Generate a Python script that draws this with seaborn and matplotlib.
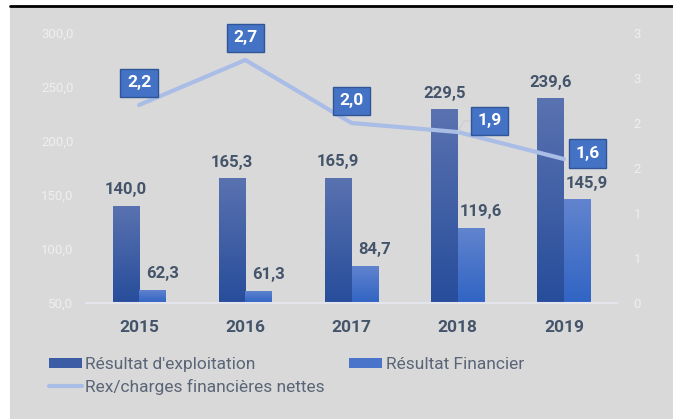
import numpy as np
import pandas as pd
import matplotlib
matplotlib.use("Agg")
import matplotlib.pyplot as plt
from matplotlib.patches import Rectangle, Patch
from matplotlib.lines import Line2D
from matplotlib.colors import LinearSegmentedColormap
import seaborn as sns

# data
years = ["2015", "2016", "2017", "2018", "2019"]
resultat_exploitation = [140.0, 165.3, 165.9, 229.5, 239.6]
resultat_financier = [62.3, 61.3, 84.7, 119.6, 145.9]
rex_charges = [2.2, 2.7, 2.0, 1.9, 1.6]
series_names = ["Résultat d'exploitation", "Résultat Financier", "Rex/charges financières nettes"]
left_ticks = [50, 100, 150, 200, 250, 300]
right_ticks = [0, 0.5, 1, 1.5, 2, 2.5, 3]
right_tick_labels = ["0", "1", "1", "2", "2", "3", "3"]

def fmt(v, nd=1):
    return f"{v:.{nd}f}".replace(".", ",")

sns.set_theme(style="white")
plt.rcParams["font.family"] = ["Roboto", "DejaVu Sans"]

BG = "#D9D9D9"
TXT = "#44546A"
dark_top, dark_bot = "#5A72B0", "#274D9B"
light_top, light_bot = "#6284CE", "#3064C4"

fig = plt.figure(figsize=(6.73, 4.19), dpi=100)
fig.patch.set_facecolor("white")
fig.add_artist(Rectangle((10 / 673, 0), 1, (419 - 7) / 419, transform=fig.transFigure,
                         facecolor=BG, edgecolor="none", zorder=0))
fig.add_artist(Line2D([10 / 673, 1], [1 - 6 / 419] * 2, transform=fig.transFigure,
                      color="black", lw=2, zorder=1))

ax = fig.add_axes([86 / 673, 116 / 419, 531 / 673, 270 / 419])
ax.set_facecolor("none")

df = pd.DataFrame({
    "year": years * 2,
    "value": resultat_exploitation + resultat_financier,
    "series": [series_names[0]] * 5 + [series_names[1]] * 5,
})
sns.barplot(data=df, x="year", y="value", hue="series", ax=ax, width=0.5,
            palette=[dark_bot, light_bot], legend=False, saturation=1, linewidth=0)
ax.set_ylim(50, 300)
ax.set_xlim(-0.5, 4.5)

# vertical gradient fill on each bar
grad = np.linspace(0, 1, 256).reshape(-1, 1)
for cont, (top, bot) in zip(ax.containers, [(dark_top, dark_bot), (light_top, light_bot)]):
    cmap = LinearSegmentedColormap.from_list("g", [bot, top])
    for p in cont.patches:
        p.set_edgecolor("none")
        x0, w, h = p.get_x(), p.get_width(), p.get_height()
        im = ax.imshow(grad, extent=[x0, x0 + w, 50, h], origin="lower", cmap=cmap,
                       aspect="auto", zorder=p.get_zorder() + 0.1)
        im.set_clip_path(p)
ax.set_xlim(-0.5, 4.5)
ax.set_ylim(50, 300)

# value labels
for i, cont in enumerate(ax.containers):
    vals = resultat_exploitation if i == 0 else resultat_financier
    texts = ax.bar_label(cont, labels=[fmt(v) for v in vals], padding=6,
                         fontsize=12, fontweight="bold", color=TXT)
    if i == 1:
        for t in texts:
            t.xyann = (7, 6)

for s in ["top", "left", "right"]:
    ax.spines[s].set_visible(False)
ax.spines["bottom"].set_color("#E4E4EC")
ax.spines["bottom"].set_linewidth(1.5)
ax.set_yticks(left_ticks)
ax.set_yticklabels([fmt(v) for v in left_ticks])
ax.tick_params(axis="y", length=0, pad=9, labelsize=9.5, labelcolor="#EFEFEF")
ax.tick_params(axis="x", length=0, pad=12)
for lab in ax.get_xticklabels():
    lab.set_fontsize(12.5)
    lab.set_fontweight("bold")
    lab.set_color(TXT)
ax.set_xlabel("")
ax.set_ylabel("")
ax.grid(False)

# secondary axis line
ax2 = ax.twinx()
ax2.set_facecolor("none")
sns.lineplot(x=np.arange(len(years)), y=rex_charges, ax=ax2, color="#AABDE6", lw=3, zorder=5)
ax2.set_ylim(0, 3)
ax2.set_xlim(-0.5, 4.5)
ax2.set_yticks(right_ticks)
ax2.set_yticklabels(right_tick_labels)
ax2.tick_params(axis="y", length=0, pad=12, labelsize=9.5, labelcolor="#EFEFEF")
for s in ax2.spines.values():
    s.set_visible(False)
ax2.grid(False)

offsets = [(0, 16), (0, 16), (0, 16), (23, 8), (17, 4)]
for i, (v, off) in enumerate(zip(rex_charges, offsets)):
    kw = {}
    if i == 3:
        kw["arrowprops"] = dict(arrowstyle="-", color="#C8CCD4", lw=0.8,
                                shrinkA=0, shrinkB=0, connectionstyle="angle,angleA=0,angleB=60")
    ax2.annotate(fmt(v), (i, v), xytext=off, textcoords="offset points",
                 ha="center", va="center", fontsize=12.5, fontweight="bold", color="white",
                 bbox=dict(boxstyle="square,pad=0.38", fc="#4472C4", ec="#2F5597", lw=1),
                 zorder=10, **kw)

# legend
handles = [
    Patch(facecolor="#3D5CA6", edgecolor="none"),
    Line2D([0], [0], color="#AABDE6", lw=3),
    Patch(facecolor="#4A74C9", edgecolor="none"),
]
labels = [series_names[0], series_names[2], series_names[1]]
leg = fig.legend(handles, labels, ncol=2, loc="upper left",
                 bbox_to_anchor=(49 / 673, 1 - 357 / 419), frameon=False,
                 fontsize=12.5, handlelength=1.9, handleheight=0.55, handletextpad=0.2,
                 columnspacing=1.4, labelspacing=0.4, borderpad=0, borderaxespad=0)
for t in leg.get_texts():
    t.set_color("#5A6577")

fig.savefig("out.png", dpi=100, facecolor=fig.get_facecolor())
